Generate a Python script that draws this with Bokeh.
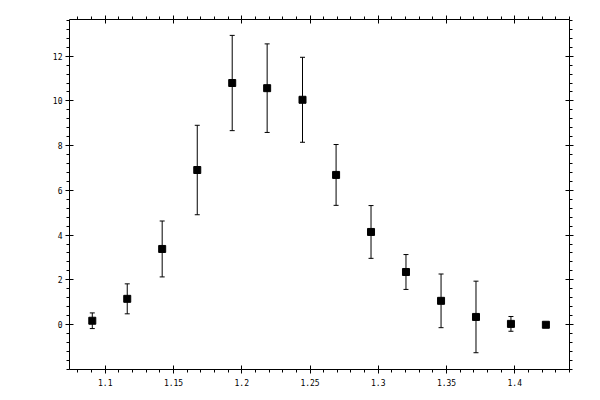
from bokeh.plotting import figure
from bokeh.models import (ColumnDataSource, Whisker, TeeHead, LinearAxis, FixedTicker,
                          Range1d, CustomJSTickFormatter)
from bokeh.embed import file_html
from bokeh.resources import INLINE

# data
x_vals = [1.0905, 1.1161, 1.1417, 1.1674, 1.1930, 1.2186, 1.2445,
          1.2691, 1.2947, 1.3203, 1.3460, 1.3716, 1.3972, 1.4228]
y_vals = [0.17, 1.15, 3.38, 6.91, 10.80, 10.57, 10.05,
          6.69, 4.14, 2.35, 1.06, 0.34, 0.03, -0.01]
y_errs = [0.35, 0.67, 1.25, 2.00, 2.13, 1.98, 1.90,
          1.36, 1.18, 0.78, 1.20, 1.60, 0.33, 0.0]

x_major = [1.1, 1.15, 1.2, 1.25, 1.3, 1.35, 1.4]
x_labels = ["1.1", "1.15", "1.2", "1.25", "1.3", "1.35", "1.4"]
x_minor = [round(1.08 + 0.01 * i, 2) for i in range(37)]
y_major = [0, 2, 4, 6, 8, 10, 12]
y_minor = [round(-2.0 + 0.4 * i, 1) for i in range(40)]

src = ColumnDataSource(dict(
    x=x_vals, y=y_vals,
    upper=[y + e for y, e in zip(y_vals, y_errs)],
    lower=[y - e for y, e in zip(y_vals, y_errs)],
))

p = figure(frame_width=500, frame_height=350, output_backend="svg", toolbar_location=None,
           x_range=Range1d(1.0738, 1.4401), y_range=Range1d(-2.01, 13.64),
           x_axis_location=None, y_axis_location=None,
           min_border_left=69, min_border_top=19, min_border_right=22, min_border_bottom=22)
p.grid.visible = False
p.outline_line_color = None
p.background_fill_color = "white"
p.border_fill_color = "white"

FONT = "DejaVu Sans Mono"
empty = CustomJSTickFormatter(code="return ''")

def style(ax, labels):
    ax.axis_line_color = "black"
    ax.axis_line_width = 1
    ax.major_tick_line_color = "black"
    ax.minor_tick_line_color = "black"
    ax.major_tick_in = 4
    ax.major_tick_out = 4
    ax.minor_tick_in = 0
    ax.minor_tick_out = 3
    ax.major_label_text_font = FONT
    ax.major_label_text_font_size = "8px"
    ax.major_label_text_color = "black"
    if not labels:
        ax.formatter = empty

bx = LinearAxis(ticker=FixedTicker(ticks=x_major, minor_ticks=x_minor))
bx.major_label_overrides = {t: l for t, l in zip(x_major, x_labels)}
style(bx, True)
bx.major_label_standoff = 5
p.add_layout(bx, "below")

tx = LinearAxis(ticker=FixedTicker(ticks=x_major, minor_ticks=x_minor))
style(tx, False)
tx.major_label_standoff = 0
p.add_layout(tx, "above")

ly = LinearAxis(ticker=FixedTicker(ticks=y_major, minor_ticks=y_minor))
style(ly, True)
ly.major_label_standoff = 3
p.add_layout(ly, "left")

ry = LinearAxis(ticker=FixedTicker(ticks=y_major, minor_ticks=y_minor))
style(ry, False)
ry.major_label_standoff = 0
p.add_layout(ry, "right")

w = Whisker(source=src, base="x", upper="upper", lower="lower",
            line_color="black", line_width=1,
            upper_head=TeeHead(size=5, line_color="black", line_width=1),
            lower_head=TeeHead(size=5, line_color="black", line_width=1))
p.add_layout(w)

p.scatter("x", "y", source=src, marker="square", size=7,
          fill_color="black", line_color="black")

open("out.html", "w").write(file_html(p, INLINE))
